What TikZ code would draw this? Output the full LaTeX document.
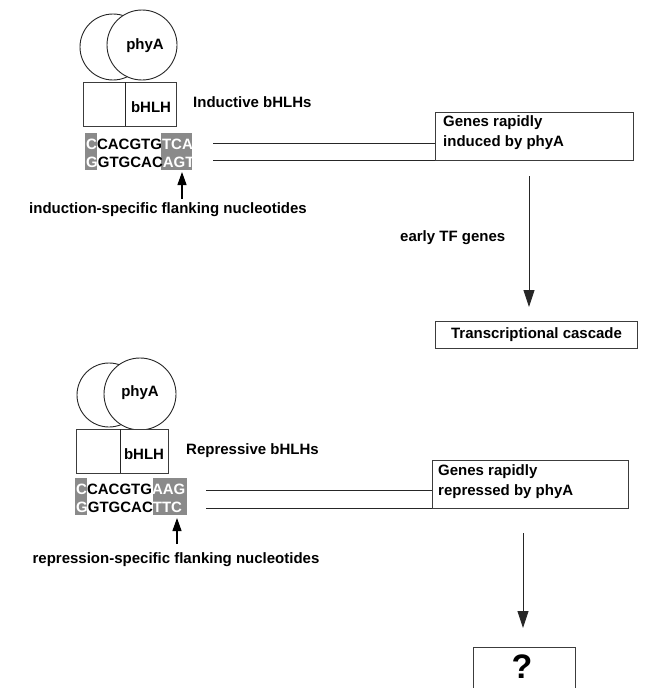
\documentclass[tikz,border=0pt]{standalone}
\usepackage{fontspec}
\setmainfont{Liberation Sans}
\usetikzlibrary{arrows.meta}
\definecolor{dnagray}{RGB}{138,138,138}
\definecolor{edge}{RGB}{60,60,60}
\tikzset{
  lbl/.style={font=\fontsize{15}{18}\selectfont\bfseries, inner sep=0pt, text=black},
  dna/.style={font=\fontsize{15}{18}\selectfont\bfseries, inner sep=0pt, anchor=west},
  gbox/.style={draw=edge, line width=1.1pt, fill=white, inner sep=0pt, anchor=north west},
  blob/.style={draw=black!85, line width=0.9pt, fill=white},
  thin/.style={draw=black!85, line width=0.9pt},
  bigarr/.style={draw=black!85, line width=0.9pt, -{Triangle[length=17pt,width=11pt]}},
  smallarr/.style={draw=black, line width=1.2pt, -{Triangle[length=13pt,width=9pt]}},
}
\begin{document}
\begin{tikzpicture}[x=1pt,y=-1pt]
\path[use as bounding box, clip] (0,0) rectangle (651,688);
\fill[white] (0,0) rectangle (651,688);

% ---------------- top group ----------------
\draw[blob] (113,47) circle (33);
\draw[blob] (142,45) circle (35);
\node[lbl] (pa1) at (145,46) {phyA};
\node[gbox, minimum width=93, minimum height=44] (bx1) at (83,82) {};
\draw[thin] (125,82) -- (125,126);
\node[lbl] (bh1) at (151,107) {bHLH};
\node[lbl, anchor=west] (ind) at (193,102) {Inductive bHLHs};

\fill[dnagray] (85,133) rectangle (97,170);
\fill[dnagray] (161,133) rectangle (192,170);
\node[dna] (d1a) at (86,144) {\textcolor{white}{C}CACGTG\textcolor{white}{TCA}};
\node[dna] (d1b) at (86,162) {\textcolor{white}{G}GTGCAC\textcolor{white}{AGT}};

\node[gbox, minimum width=198, minimum height=48] (gi) at (435,112) {};
\node[lbl, anchor=west] (gi1) at (443,123) {Genes rapidly};
\node[lbl, anchor=west] (gi2) at (443,143) {induced by phyA};

\coordinate (l1a) at (213,143);
\coordinate (l1b) at (213,160);
\draw[thin] (l1a) -- (l1a -| gi.west);
\draw[thin] (l1b) -- (l1b -| gi.west);

\node[gbox, minimum width=202, minimum height=27] (tc) at (435,321) {};
\node[lbl] (tct) at (tc.center) {Transcriptional cascade};

\coordinate (ax1) at (529,0);
\draw[bigarr, shorten <=15pt, shorten >=14pt] (gi.south -| ax1) -- (tc.north -| ax1);
\node[lbl, anchor=west] (etf) at (400,238) {early TF genes};

\coordinate (fa1) at (182,199);
\draw[smallarr] (fa1) -- (182,172);
\node[lbl] (isf) at (168,210) {induction-specific flanking nucleotides};

% ---------------- bottom group ----------------
\draw[blob] (109,395) circle (32);
\draw[blob] (140,394) circle (36);
\node[lbl] (pa2) at (140,393) {phyA};
\node[gbox, minimum width=92, minimum height=44] (bx2) at (76,429) {};
\draw[thin] (120,429) -- (120,473);
\node[lbl] (bh2) at (144,454) {bHLH};
\node[lbl, anchor=west] (rep) at (186,451) {Repressive bHLHs};

\fill[dnagray] (75,478) rectangle (87,515);
\fill[dnagray] (153,478) rectangle (187,515);
\node[dna] (d2a) at (76,489) {\textcolor{white}{C}CACGTG\textcolor{white}{AAG}};
\node[dna] (d2b) at (76,507) {\textcolor{white}{G}GTGCAC\textcolor{white}{TTC}};

\node[gbox, minimum width=196, minimum height=48] (gr) at (432,460) {};
\node[lbl, anchor=west] (gr1) at (438,472) {Genes rapidly};
\node[lbl, anchor=west] (gr2) at (438,492) {repressed by phyA};

\coordinate (l2a) at (206,490);
\coordinate (l2b) at (206,508);
\draw[thin] (l2a) -- (l2a -| gr.west);
\draw[thin] (l2b) -- (l2b -| gr.west);

\node[gbox, minimum width=102, minimum height=60] (qb) at (473,647) {};
\node[font=\fontsize{34}{40}\selectfont\bfseries, inner sep=0pt] (qm) at (522,667) {?};

\coordinate (ax2) at (523,0);
\draw[bigarr, shorten <=24pt, shorten >=19pt] (gr.south -| ax2) -- (qb.north -| ax2);

\coordinate (fa2) at (177,544);
\draw[smallarr] (fa2) -- (177,518);
\node[lbl] (rsf) at (176,560) {repression-specific flanking nucleotides};
\end{tikzpicture}
\end{document}
